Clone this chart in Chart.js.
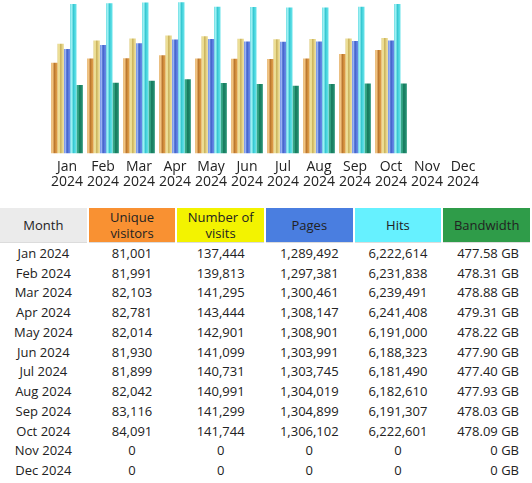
<!DOCTYPE html>
<html>
<head>
<meta charset="utf-8">
<script src="https://cdn.jsdelivr.net/npm/chart.js@4"></script>
<style>
  body { margin: 0; background: #fff; font-family: 'Open Sans', sans-serif; color: #222; }
  .chart-box { position: relative; width: 532px; height: 196px; }
  table { border-collapse: separate; border-spacing: 2px 0; margin: 12px 0 0 -2px; width: 534px; table-layout: fixed; font-size: 13px; }
  th { height: 34px; font-weight: 400; font-size: 13px; line-height: 16px; padding: 0 4px; border-bottom: 1px solid #dcdcdc; }
  td { height: 19.75px; padding: 0; text-align: center; white-space: nowrap; }
  td.bw { text-align: right; padding-right: 11px; }
</style>
</head>
<body>
<div class="chart-box"><canvas id="trafficChart"></canvas></div>
<table id="statsTable">
  <thead>
    <tr>
      <th style="background:#ebebeb">Month</th>
      <th style="background:#f99132">Unique visitors</th>
      <th style="background:#f3f300">Number of visits</th>
      <th style="background:#4a7ee0">Pages</th>
      <th style="background:#66f1ff">Hits</th>
      <th style="background:#2f9c49">Bandwidth</th>
    </tr>
  </thead>
  <tbody id="statsBody"></tbody>
</table>

<script>
// Monthly traffic
const months = ['Jan', 'Feb', 'Mar', 'Apr', 'May', 'Jun', 'Jul', 'Aug', 'Sep', 'Oct', 'Nov', 'Dec'];
const year = '2024';
const visitors = [81001, 81991, 82103, 82781, 82014, 81930, 81899, 82042, 83116, 84091, 0, 0];
const visits = [137444, 139813, 141295, 143444, 142901, 141099, 140731, 140991, 141299, 141744, 0, 0];
const pages = [1289492, 1297381, 1300461, 1308147, 1308901, 1303991, 1303745, 1304019, 1304899, 1306102, 0, 0];
const hits = [6222614, 6231838, 6239491, 6241408, 6191000, 6188323, 6181490, 6182610, 6191307, 6222601, 0, 0];
const bandwidthGB = [477.58, 478.31, 478.88, 479.31, 478.22, 477.90, 477.40, 477.93, 478.03, 478.09, 0, 0];

// cylinder look: colour stops left -> right for each series
const shades = [
  ['#e4ad62', '#f4c887', '#b8742e', '#d6933f', '#e0a04c'],
  ['#dcc873', '#f7eca8', '#c8b05a', '#e4d386', '#ecdc93'],
  ['#6a8ae4', '#9db6f5', '#3e5ec6', '#5b7ddf', '#6d8ce6'],
  ['#55d8e0', '#a8f5f7', '#35c6d0', '#52dae2', '#68e3ea'],
  ['#2c9b7c', '#3aae8c', '#14765a', '#1f896a', '#2a9477']
];

const CAT_PCT = 0.88;

function barFill(ctx, k) {
  const chart = ctx.chart;
  const x = chart.scales.x;
  if (ctx.dataIndex === undefined || !x || !chart.chartArea) return shades[k][2];
  const catW = x.width / months.length;
  const groupW = catW * CAT_PCT;
  const barW = groupW / shades.length;
  const left = x.getPixelForValue(ctx.dataIndex) - groupW / 2 + k * barW;
  const g = chart.ctx.createLinearGradient(left, 0, left + barW, 0);
  shades[k].forEach((c, i) => g.addColorStop(i / (shades[k].length - 1), c));
  return g;
}

const series = [visitors, visits, pages, hits, bandwidthGB];
const axisIds = ['yVisitors', 'yVisits', 'yPages', 'yHits', 'yBw'];

const ctx = document.getElementById('trafficChart').getContext('2d');
const trafficChart = new Chart(ctx, {
  type: 'bar',
  data: {
    labels: months.map(m => [m, year]),
    datasets: series.map((arr, k) => ({
      data: arr.map(v => v || null),
      yAxisID: axisIds[k],
      backgroundColor: c => barFill(c, k),
      borderWidth: 0,
      categoryPercentage: CAT_PCT,
      barPercentage: 1
    }))
  },
  options: {
    responsive: true,
    maintainAspectRatio: false,
    animation: false,
    layout: { padding: { left: 49, right: 51, top: 0, bottom: 0 } },
    plugins: { legend: { display: false }, tooltip: { enabled: false } },
    scales: {
      x: {
        grid: { display: false, drawTicks: false },
        border: { display: false },
        ticks: {
          padding: 6,
          color: '#222',
          maxRotation: 0,
          autoSkip: false,
          font: { family: 'Open Sans', size: 14, lineHeight: 1.1 }
        }
      },
      yVisitors: { display: false, min: 59170, max: 96135 },
      yVisits: { display: false, min: 58176, max: 169206 },
      yPages: { display: false, min: 1086437, max: 1384886 },
      yHits: { display: false, min: 4494632, max: 6268675 },
      yBw: { display: false, min: 457.35, max: 502.86 }
    }
  }
});

// Table under the chart
const body = document.getElementById('statsBody');
months.forEach((m, i) => {
  const tr = document.createElement('tr');
  tr.innerHTML = `
    <td>${m} ${year}</td>
    <td>${visitors[i].toLocaleString('en-US')}</td>
    <td>${visits[i].toLocaleString('en-US')}</td>
    <td>${pages[i].toLocaleString('en-US')}</td>
    <td>${hits[i].toLocaleString('en-US')}</td>
    <td class="bw">${bandwidthGB[i] ? bandwidthGB[i].toFixed(2) : 0} GB</td>
  `;
  body.appendChild(tr);
});
</script>
</body>
</html>
